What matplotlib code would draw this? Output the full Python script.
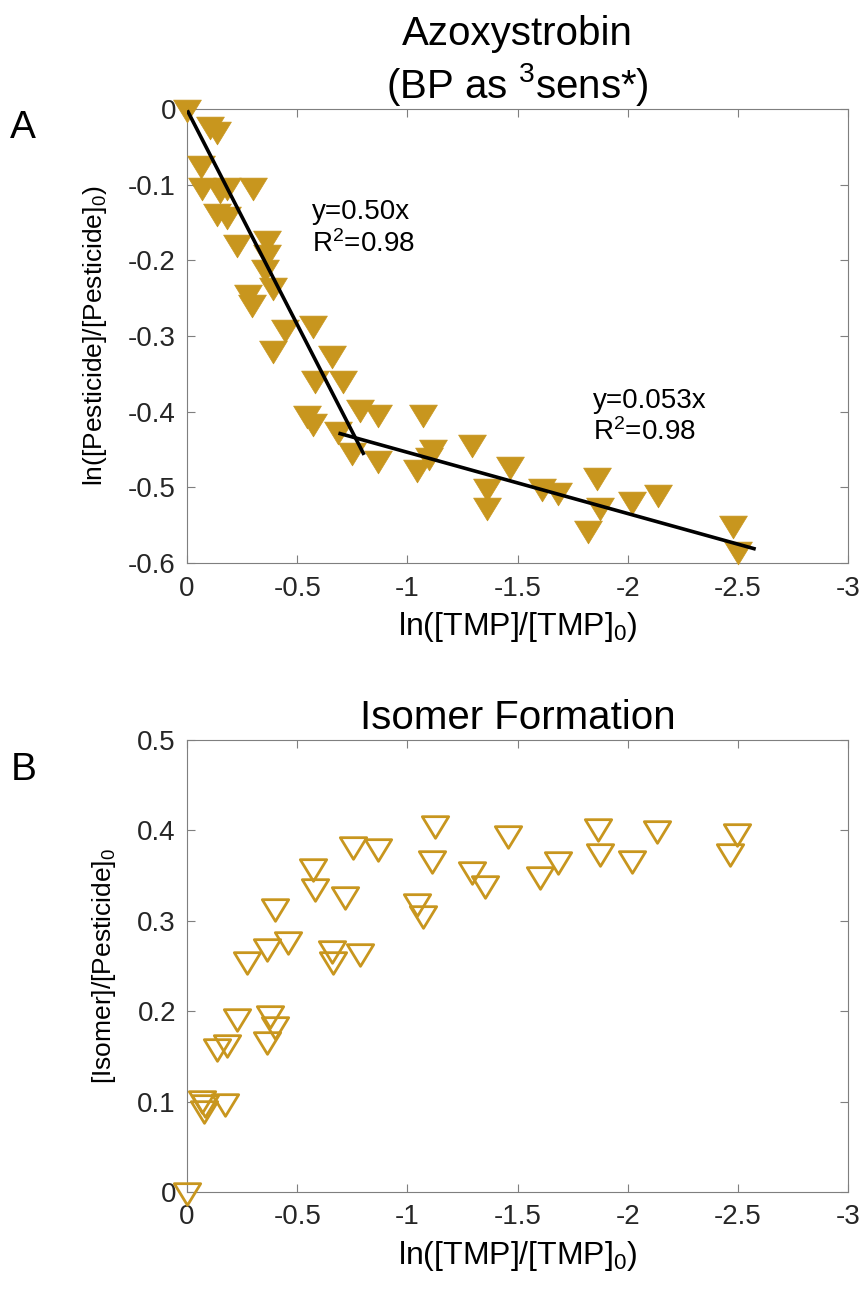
import matplotlib
matplotlib.use('Agg')
import matplotlib.pyplot as plt
from matplotlib.path import Path

plt.rcParams['font.family'] = ['Liberation Sans', 'DejaVu Sans']
plt.rcParams['mathtext.fontset'] = 'custom'
plt.rcParams['mathtext.rm'] = 'Liberation Sans'
plt.rcParams['mathtext.it'] = 'Liberation Sans:italic'
plt.rcParams['mathtext.default'] = 'regular'
plt.rcParams['axes.unicode_minus'] = False

gold = '#C8961E'
axis_grey = '#7f7f7f'

# panel A: ln([Pesticide]/[Pesticide]0) vs ln([TMP]/[TMP]0)
pest_x = [0.0, -0.104, -0.136, -0.065, -0.068, -0.15, -0.18, -0.30, -0.136, -0.18,
          -0.227, -0.363, -0.363, -0.354, -0.39, -0.277, -0.295, -0.445, -0.572, -0.39,
          -0.658, -0.581, -0.708, -0.785, -0.867, -1.071, -0.545, -0.572, -0.685, -0.749,
          -0.867, -1.044, -1.117, -1.10, -1.294, -1.36, -1.362, -1.468, -1.61, -1.685,
          -1.86, -1.875, -1.82, -2.02, -2.136, -2.477, -2.50]
pest_y = [-0.003, -0.025, -0.032, -0.077, -0.106, -0.11, -0.106, -0.106, -0.14, -0.144,
          -0.181, -0.176, -0.194, -0.214, -0.238, -0.247, -0.26, -0.293, -0.288, -0.321,
          -0.328, -0.361, -0.361, -0.399, -0.406, -0.406, -0.407, -0.417, -0.428, -0.456,
          -0.466, -0.479, -0.452, -0.462, -0.446, -0.503, -0.529, -0.474, -0.503, -0.509,
          -0.489, -0.529, -0.559, -0.521, -0.512, -0.553, -0.587]

# the two fitted segments
fit1_x = [-0.005, -0.80]
fit1_y = [-0.004, -0.455]
fit2_x = [-0.695, -2.573]
fit2_y = [-0.429, -0.581]

# panel B: [Isomer]/[Pesticide]0
iso_x = [0.0, -0.068, -0.082, -0.075, -0.172, -0.136, -0.18, -0.227, -0.272, -0.363,
         -0.459, -0.40, -0.363, -0.377, -0.40, -0.572, -0.581, -0.717, -0.658, -0.663,
         -0.785, -0.754, -0.867, -1.126, -1.112, -1.044, -1.071, -1.294, -1.353, -1.457,
         -1.602, -1.684, -1.866, -1.875, -2.02, -2.134, -2.497, -2.465]
iso_y = [-0.002, 0.10, 0.095, 0.088, 0.096, 0.157, 0.161, 0.19, 0.253, 0.268,
         0.275, 0.312, 0.165, 0.194, 0.181, 0.356, 0.334, 0.325, 0.265, 0.253,
         0.262, 0.38, 0.378, 0.404, 0.365, 0.318, 0.304, 0.353, 0.337, 0.393,
         0.347, 0.364, 0.40, 0.373, 0.365, 0.398, 0.395, 0.373]

xticks = [0, -0.5, -1, -1.5, -2, -2.5, -3]
xtick_labels = ['0', '-0.5', '-1', '-1.5', '-2', '-2.5', '-3']
a_yticks = [0, -0.1, -0.2, -0.3, -0.4, -0.5, -0.6]
a_ytick_labels = ['0', '-0.1', '-0.2', '-0.3', '-0.4', '-0.5', '-0.6']
b_yticks = [0, 0.1, 0.2, 0.3, 0.4, 0.5]
b_ytick_labels = ['0', '0.1', '0.2', '0.3', '0.4', '0.5']

# slightly flattened downward triangle, like the matlab marker
tri = Path([(-1, 0.82), (1, 0.82), (0, -0.82), (-1, 0.82)], closed=True)

fig = plt.figure(figsize=(8.63, 12.91), dpi=100)
ax1 = fig.add_axes([0.2167, 0.5639, 0.766, 0.3517])
ax2 = fig.add_axes([0.2167, 0.0767, 0.766, 0.3501])

ax1.plot(pest_x, pest_y, linestyle='none', marker=tri, ms=20, mfc=gold, mec=gold,
         mew=0.5, clip_on=False, zorder=3)
ax1.plot(fit1_x, fit1_y, color='black', lw=2.6, zorder=4)
ax1.plot(fit2_x, fit2_y, color='black', lw=2.6, zorder=4)
ax1.text(-0.567, -0.136, 'y=0.50x', fontsize=20, va='center')
ax1.text(-0.567, -0.179, 'R$^2$=0.98', fontsize=20, va='center')
ax1.text(-1.843, -0.386, 'y=0.053x', fontsize=20, va='center')
ax1.text(-1.843, -0.427, 'R$^2$=0.98', fontsize=20, va='center')
ax1.set_ylim(-0.6, 0)
ax1.set_yticks(a_yticks, a_ytick_labels)
ax1.set_title('Azoxystrobin\n(BP as $^3$sens*)', fontsize=29, pad=8)
ax1.set_ylabel('ln([Pesticide]/[Pesticide]$_0$)', fontsize=19, labelpad=14)

ax2.plot(iso_x, iso_y, linestyle='none', marker=tri, ms=19, mfc='none', mec=gold,
         mew=2.0, clip_on=False, zorder=3)
ax2.set_ylim(0, 0.5)
ax2.set_yticks(b_yticks, b_ytick_labels)
ax2.set_title('Isomer Formation', fontsize=29, pad=8)
ax2.set_ylabel('[Isomer]/[Pesticide]$_0$', fontsize=19, labelpad=14)

for ax in (ax1, ax2):
    ax.set_xlim(0, -3)
    ax.set_xticks(xticks, xtick_labels)
    ax.set_xlabel('ln([TMP]/[TMP]$_0$)', fontsize=23, labelpad=6)
    ax.tick_params(direction='in', top=True, right=True, length=6, width=0.8,
                   color=axis_grey, labelsize=20, labelcolor='#262626')
    ax.tick_params(axis='x', pad=9)
    ax.tick_params(axis='y', pad=8)
    for s in ax.spines.values():
        s.set_color(axis_grey)
        s.set_linewidth(0.8)

fig.text(0.012, 1 - 128 / 1291, 'A', fontsize=28, va='center')
fig.text(0.012, 1 - 770 / 1291, 'B', fontsize=28, va='center')

fig.savefig('out.png', dpi=100)
